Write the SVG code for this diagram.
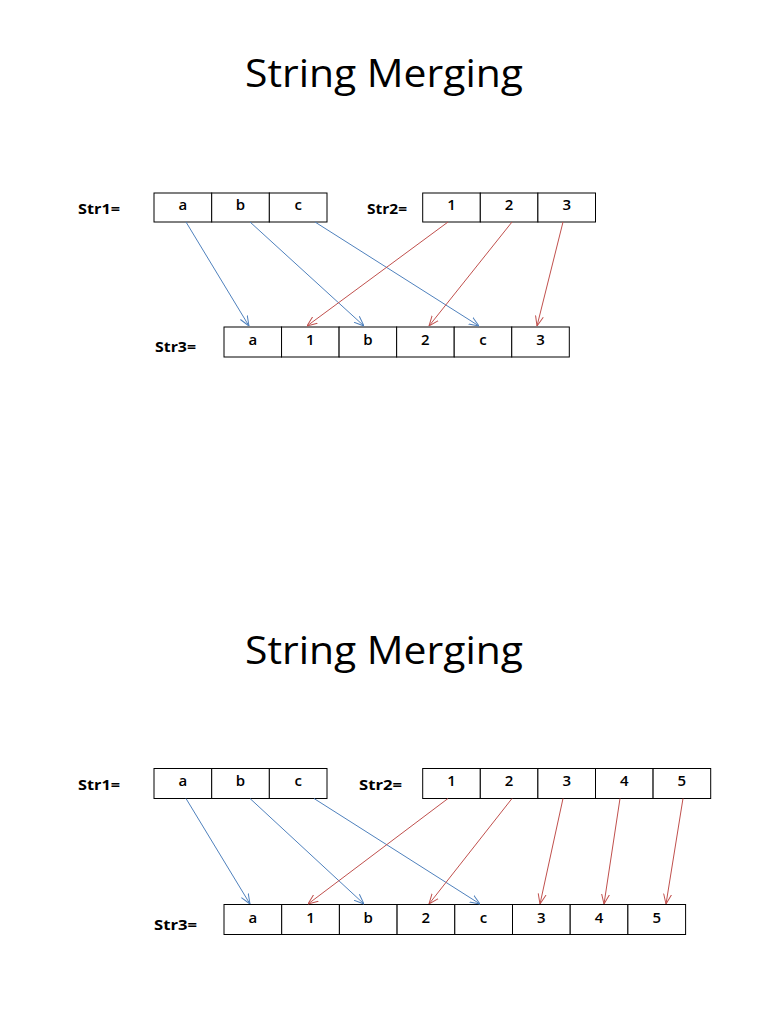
<svg xmlns="http://www.w3.org/2000/svg" width="768" height="1024" viewBox="0 0 768 1024">
<style>
.title{font-family:"Open Sans","Liberation Sans",sans-serif;font-size:39px;fill:#000}
.lbl{font-family:"Open Sans","Liberation Sans",sans-serif;font-size:14.5px;font-weight:bold;fill:#000}
.cell rect{fill:#fff;stroke:#000;stroke-width:1}
.cell text{font-family:"Open Sans","Liberation Sans",sans-serif;font-size:15px;font-weight:600;fill:#000;text-anchor:middle}
.blue{stroke:#4F81BD;stroke-width:1;fill:none;marker-end:url(#ab)}
.red{stroke:#C0504D;stroke-width:1;fill:none;marker-end:url(#ar)}
</style>
<defs>
<marker id="ab" viewBox="0 0 10 10" refX="10" refY="5" markerWidth="10" markerHeight="10" markerUnits="userSpaceOnUse" orient="auto"><path d="M0,1 L10,5 L0,9" fill="none" stroke="#4F81BD" stroke-width="1"/></marker>
<marker id="ar" viewBox="0 0 10 10" refX="10" refY="5" markerWidth="10" markerHeight="10" markerUnits="userSpaceOnUse" orient="auto"><path d="M0,1 L10,5 L0,9" fill="none" stroke="#C0504D" stroke-width="1"/></marker>
</defs>
<rect width="768" height="1024" fill="#fff"/>

<!-- Top diagram -->
<text class="title" x="245" y="87" textLength="278" lengthAdjust="spacingAndGlyphs">String Merging</text>
<g id="top-str1">
<text class="lbl" x="78" y="214" textLength="42" lengthAdjust="spacingAndGlyphs">Str1=</text>
<g class="cell">
<rect x="154" y="193" width="57.7" height="29"/><text x="182.8" y="210">a</text>
<rect x="211.7" y="193" width="57.7" height="29"/><text x="240.5" y="210">b</text>
<rect x="269.3" y="193" width="57.7" height="29"/><text x="298.2" y="210">c</text>
</g>
</g>
<g id="top-str2">
<text class="lbl" x="367" y="214" textLength="40" lengthAdjust="spacingAndGlyphs">Str2=</text>
<g class="cell">
<rect x="422.7" y="193" width="57.6" height="29"/><text x="451.5" y="210">1</text>
<rect x="480.3" y="193" width="57.6" height="29"/><text x="509.1" y="210">2</text>
<rect x="537.9" y="193" width="57.6" height="29"/><text x="566.7" y="210">3</text>
</g>
</g>
<g id="top-str3">
<text class="lbl" x="155" y="352" textLength="41" lengthAdjust="spacingAndGlyphs">Str3=</text>
<g class="cell">
<rect x="224" y="327" width="57.55" height="30"/><text x="252.8" y="345">a</text>
<rect x="281.55" y="327" width="57.55" height="30"/><text x="310.3" y="345">1</text>
<rect x="339.1" y="327" width="57.55" height="30"/><text x="367.9" y="345">b</text>
<rect x="396.65" y="327" width="57.55" height="30"/><text x="425.4" y="345">2</text>
<rect x="454.2" y="327" width="57.55" height="30"/><text x="483" y="345">c</text>
<rect x="511.75" y="327" width="57.55" height="30"/><text x="540.5" y="345">3</text>
</g>
</g>
<g id="top-connectors">
<line class="blue" x1="186" y1="222" x2="249" y2="326"/>
<line class="blue" x1="250" y1="222" x2="364" y2="326"/>
<line class="blue" x1="315" y1="222" x2="479" y2="326"/>
<line class="red" x1="448" y1="222" x2="307" y2="326"/>
<line class="red" x1="512" y1="222" x2="429" y2="326"/>
<line class="red" x1="563" y1="222" x2="537" y2="326"/>
</g>

<!-- Bottom diagram -->
<text class="title" x="245" y="664" textLength="278" lengthAdjust="spacingAndGlyphs">String Merging</text>
<g id="bot-str1">
<text class="lbl" x="78" y="790" textLength="42" lengthAdjust="spacingAndGlyphs">Str1=</text>
<g class="cell">
<rect x="154" y="768.5" width="57.7" height="30"/><text x="182.8" y="786">a</text>
<rect x="211.7" y="768.5" width="57.7" height="30"/><text x="240.5" y="786">b</text>
<rect x="269.3" y="768.5" width="57.7" height="30"/><text x="298.2" y="786">c</text>
</g>
</g>
<g id="bot-str2">
<text class="lbl" x="359" y="790" textLength="43" lengthAdjust="spacingAndGlyphs">Str2=</text>
<g class="cell">
<rect x="422.7" y="768.5" width="57.6" height="30"/><text x="451.5" y="786">1</text>
<rect x="480.3" y="768.5" width="57.6" height="30"/><text x="509.1" y="786">2</text>
<rect x="537.9" y="768.5" width="57.6" height="30"/><text x="566.7" y="786">3</text>
<rect x="595.5" y="768.5" width="57.6" height="30"/><text x="624.3" y="786">4</text>
<rect x="653.1" y="768.5" width="57.6" height="30"/><text x="681.9" y="786">5</text>
</g>
</g>
<g id="bot-str3">
<text class="lbl" x="154" y="930" textLength="43" lengthAdjust="spacingAndGlyphs">Str3=</text>
<g class="cell">
<rect x="224" y="904.5" width="57.7" height="30"/><text x="252.8" y="923">a</text>
<rect x="281.7" y="904.5" width="57.7" height="30"/><text x="310.5" y="923">1</text>
<rect x="339.4" y="904.5" width="57.7" height="30"/><text x="368.2" y="923">b</text>
<rect x="397.1" y="904.5" width="57.7" height="30"/><text x="425.9" y="923">2</text>
<rect x="454.8" y="904.5" width="57.7" height="30"/><text x="483.6" y="923">c</text>
<rect x="512.5" y="904.5" width="57.7" height="30"/><text x="541.3" y="923">3</text>
<rect x="570.2" y="904.5" width="57.7" height="30"/><text x="599" y="923">4</text>
<rect x="627.9" y="904.5" width="57.7" height="30"/><text x="656.7" y="923">5</text>
</g>
</g>
<g id="bot-connectors">
<line class="blue" x1="186" y1="798.5" x2="250" y2="904"/>
<line class="blue" x1="250" y1="798.5" x2="364" y2="904"/>
<line class="blue" x1="314" y1="798.5" x2="480" y2="904"/>
<line class="red" x1="448" y1="798.5" x2="308" y2="904"/>
<line class="red" x1="512" y1="798.5" x2="429" y2="904"/>
<line class="red" x1="563" y1="798.5" x2="540" y2="904"/>
<line class="red" x1="620" y1="798.5" x2="604" y2="904"/>
<line class="red" x1="683" y1="798.5" x2="666" y2="904"/>
</g>
</svg>
